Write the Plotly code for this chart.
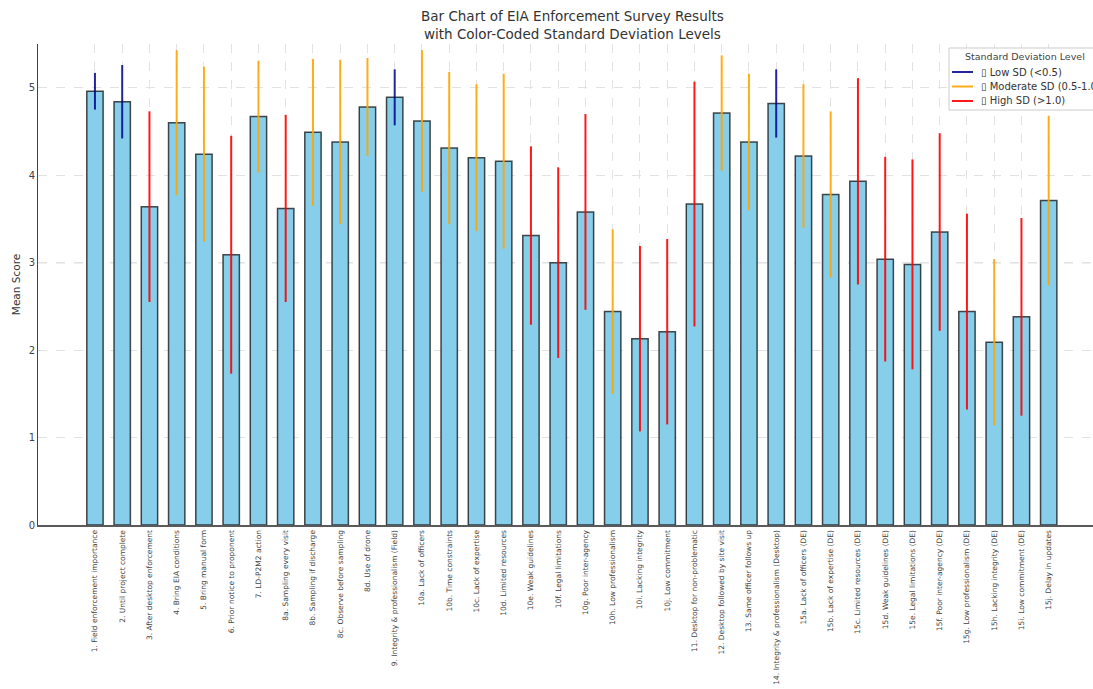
import plotly.graph_objects as go

# Survey items (x categories)
labels = [
    "1. Field enforcement importance",
    "2. Until project complete",
    "3. After desktop enforcement",
    "4. Bring EIA conditions",
    "5. Bring manual form",
    "6. Prior notice to proponent",
    "7. LD-P2M2 action",
    "8a. Sampling every visit",
    "8b. Sampling if discharge",
    "8c. Observe before sampling",
    "8d. Use of drone",
    "9. Integrity & professionalism (Field)",
    "10a. Lack of officers",
    "10b. Time constraints",
    "10c. Lack of expertise",
    "10d. Limited resources",
    "10e. Weak guidelines",
    "10f. Legal limitations",
    "10g. Poor inter-agency",
    "10h. Low professionalism",
    "10i. Lacking integrity",
    "10j. Low commitment",
    "11. Desktop for non-problematic",
    "12. Desktop followed by site visit",
    "13. Same officer follows up",
    "14. Integrity & professionalism (Desktop)",
    "15a. Lack of officers (DE)",
    "15b. Lack of expertise (DE)",
    "15c. Limited resources (DE)",
    "15d. Weak guidelines (DE)",
    "15e. Legal limitations (DE)",
    "15f. Poor inter-agency (DE)",
    "15g. Low professionalism (DE)",
    "15h. Lacking integrity (DE)",
    "15i. Low commitment (DE)",
    "15j. Delay in updates",
]

# Mean score per item
means = [4.96, 4.84, 3.64, 4.60, 4.24, 3.09, 4.67, 3.62, 4.49, 4.38, 4.78, 4.89,
         4.62, 4.31, 4.20, 4.16, 3.31, 3.00, 3.58, 2.44, 2.13, 2.21,
         3.67, 4.71, 4.38, 4.82,
         4.22, 3.78, 3.93, 3.04, 2.98, 3.35, 2.44, 2.09, 2.38, 3.71]

# Standard deviation per item
sds = [0.21, 0.42, 1.09, 0.83, 1.00, 1.36, 0.64, 1.07, 0.84, 0.94, 0.56, 0.32,
       0.81, 0.87, 0.84, 1.00, 1.02, 1.09, 1.12, 0.94, 1.06, 1.06,
       1.40, 0.66, 0.78, 0.39,
       0.82, 0.95, 1.18, 1.17, 1.20, 1.13, 1.12, 0.95, 1.13, 0.97]

# SD level groups: legend text, colour, test
levels = [
    ("▯ Low SD (<0.5)", "rgba(0,0,139,0.85)", lambda s: s < 0.5),
    ("▯ Moderate SD (0.5-1.0)", "rgba(255,165,0,0.9)", lambda s: 0.5 <= s <= 1.0),
    ("▯ High SD (>1.0)", "rgba(255,0,0,0.9)", lambda s: s > 1.0),
]
legend_title = "Standard Deviation Level"

FONT = "DejaVu Sans, sans-serif"
W, H = 1093, 689
ML, MT, MB = 38, 44, 164
PW, PH = W - ML, H - MT - MB


def px(X):
    """Pixel column -> paper x."""
    return (X - ML) / PW


def py(Y):
    """Pixel row -> paper y."""
    return (H - MB - Y) / PH


xs = list(range(len(labels)))

fig = go.Figure()

fig.add_trace(go.Bar(
    x=xs, y=means, width=0.6,
    marker=dict(color="#87CEEB", line=dict(color="rgba(0,0,0,0.7)", width=1.5)),
    showlegend=False, hoverinfo="skip",
))

# Error bars coloured by SD level
for name, color, test in levels:
    idx = [i for i, s in enumerate(sds) if test(s)]
    fig.add_trace(go.Scatter(
        x=[xs[i] for i in idx], y=[means[i] for i in idx],
        mode="markers", marker=dict(size=1, opacity=0),
        error_y=dict(type="data", array=[sds[i] for i in idx], symmetric=True,
                     color=color, thickness=2, width=0),
        showlegend=False, hoverinfo="skip",
    ))

# Reference line at the neutral score
fig.add_shape(type="line", xref="paper", yref="y", x0=0, x1=1, y0=3, y1=3,
              line=dict(color="rgba(120,120,120,0.9)", width=1, dash="dash"),
              layer="below")

# Legend box (upper right)
fig.add_shape(type="rect", xref="paper", yref="paper",
              x0=px(949), x1=px(1110), y0=py(110), y1=py(48),
              fillcolor="rgba(255,255,255,0.85)",
              line=dict(color="#cccccc", width=1), layer="above")
fig.add_annotation(text=legend_title, xref="paper", yref="paper",
                   x=px(1025), y=py(57), xanchor="center", yanchor="middle",
                   showarrow=False,
                   font=dict(family=FONT, size=9.5, color="#444"))
for k, (name, color, test) in enumerate(levels):
    yy = 72 + 14.5 * k
    fig.add_shape(type="line", xref="paper", yref="paper",
                  x0=px(952), x1=px(973), y0=py(yy), y1=py(yy),
                  line=dict(color=color, width=2), layer="above")
    fig.add_annotation(text=name, xref="paper", yref="paper",
                       x=px(979), y=py(yy), xanchor="left", yanchor="middle",
                       showarrow=False,
                       font=dict(family=FONT, size=10, color="#333"))

# Two-line chart title
fig.add_annotation(
    text="Bar Chart of EIA Enforcement Survey Results<br>with Color-Coded Standard Deviation Levels",
    xref="paper", yref="paper", x=px(572), y=py(44),
    xanchor="center", yanchor="bottom", showarrow=False,
    font=dict(family=FONT, size=13.5, color="#333"),
)

fig.update_layout(
    template="none",
    width=W, height=H,
    margin=dict(l=ML, r=0, t=MT, b=MB, autoexpand=False),
    paper_bgcolor="white", plot_bgcolor="white",
    font=dict(family=FONT, color="#333"),
    showlegend=False,
    xaxis=dict(
        range=[-2.09, -2.09 + PW / 27.25],
        tickmode="array", tickvals=xs, ticktext=labels,
        tickangle=-90, ticks="", automargin=False,
        tickfont=dict(family=FONT, size=7.5, color="#444"),
        showgrid=True, gridcolor="#e2e2e2", gridwidth=0.8, griddash="dash",
        showline=True, linecolor="#5a5a5a", linewidth=2,
        zeroline=False,
    ),
    yaxis=dict(
        range=[0, 5.5],
        tickmode="array", tickvals=[0, 1, 2, 3, 4, 5],
        ticks="", automargin=False,
        tickfont=dict(family=FONT, size=10, color="#444"),
        showgrid=True, gridcolor="#e2e2e2", gridwidth=0.8, griddash="dash",
        showline=True, linecolor="#444", linewidth=1,
        zeroline=False,
        title=dict(text="Mean Score", standoff=5,
                   font=dict(family=FONT, size=10.5, color="#333")),
    ),
)

fig.write_html("out.html")
